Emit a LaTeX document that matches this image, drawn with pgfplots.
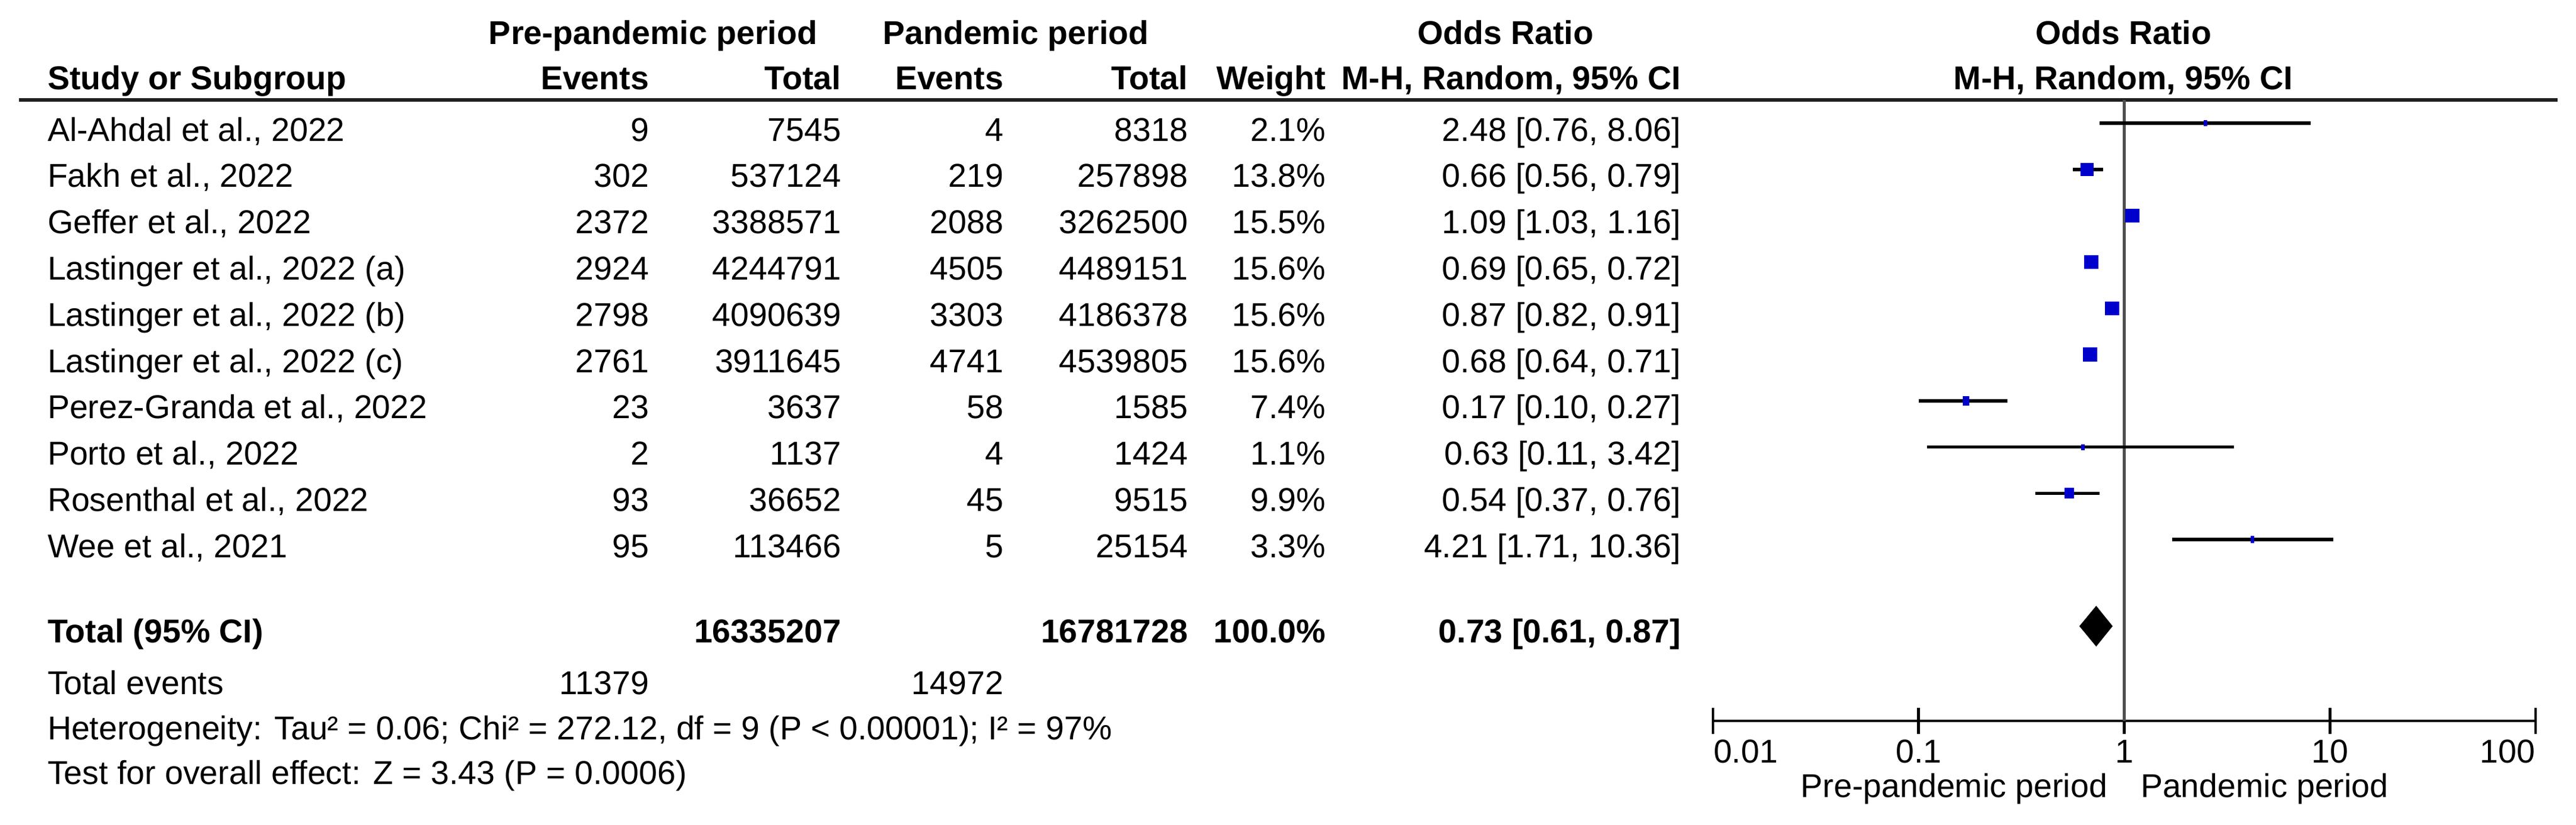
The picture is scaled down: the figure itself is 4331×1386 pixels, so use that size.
\documentclass[border=0pt]{standalone}
\usepackage{fontspec}
\setmainfont{Liberation Sans}
\usepackage{pgfplots}
\pgfplotsset{compat=1.18}

\definecolor{orblue}{RGB}{0,0,204}
\definecolor{refgray}{RGB}{77,77,77}
\newcommand\fs{\fontsize{11.1}{13}\selectfont}

% marker: filled rectangle, half sizes set per point
\pgfdeclareplotmark{wrect}{%
  \pgfpathrectangle{\pgfpoint{-\hw pt}{-\hh pt}}{\pgfpoint{2*\hw pt}{2*\hh pt}}%
  \pgfusepath{fill}}

% r  or  lo  hi  weight
\pgfplotstableread{
r   or   lo   hi    w
1   2.48 0.76 8.06  2.1
2   0.66 0.56 0.79  13.8
3   1.09 1.03 1.16  15.5
4   0.69 0.65 0.72  15.6
5   0.87 0.82 0.91  15.6
6   0.68 0.64 0.71  15.6
7   0.17 0.10 0.27  7.4
8   0.63 0.11 3.42  1.1
9   0.54 0.37 0.76  9.9
10  4.21 1.71 10.36 3.3
}\studies

% one row of the table, #1 = baseline in px
\newcommand\srow[8]{%
  \node[anchor=base west] at (79,#1) {#2};
  \node[anchor=base east] at (1092,#1) {#3};
  \node[anchor=base east] at (1415,#1) {#4};
  \node[anchor=base east] at (1688,#1) {#5};
  \node[anchor=base east] at (1998,#1) {#6};
  \node[anchor=base east] at (2230,#1) {#7};
  \node[anchor=base east] at (2827,#1) {#8};
}

\begin{document}
\begin{tikzpicture}[every node/.style={font=\fs, inner sep=0pt, text=black}]
\begin{scope}[x=0.2pt, y=-0.2pt]
  \path[use as bounding box] (0,0) rectangle (4331,1386);

  % headers
  \begin{scope}[every node/.style={font=\fs\bfseries, inner sep=0pt}]
    \node[anchor=base] at (1098,74) {Pre-pandemic period};
    \node[anchor=base] at (1708,74) {Pandemic period};
    \node[anchor=base] at (2531,74) {Odds Ratio};
    \node[anchor=base] at (3570,74) {Odds Ratio};
    \srow{150}{Study or Subgroup}{Events}{Total}{Events}{Total}{Weight}{M-H, Random, 95\% CI}
    \node[anchor=base] at (3570,150) {M-H, Random, 95\% CI};
  \end{scope}
  \draw[line width=1.3pt, black!87] (32,168) -- (4300,168);

  \srow{237}{Al-Ahdal et al., 2022}{9}{7545}{4}{8318}{2.1\%}{2.48 [0.76, 8.06]}
  \srow{314.8}{Fakh et al., 2022}{302}{537124}{219}{257898}{13.8\%}{0.66 [0.56, 0.79]}
  \srow{392.6}{Geffer et al., 2022}{2372}{3388571}{2088}{3262500}{15.5\%}{1.09 [1.03, 1.16]}
  \srow{470.4}{Lastinger et al., 2022 (a)}{2924}{4244791}{4505}{4489151}{15.6\%}{0.69 [0.65, 0.72]}
  \srow{548.2}{Lastinger et al., 2022 (b)}{2798}{4090639}{3303}{4186378}{15.6\%}{0.87 [0.82, 0.91]}
  \srow{626}{Lastinger et al., 2022 (c)}{2761}{3911645}{4741}{4539805}{15.6\%}{0.68 [0.64, 0.71]}
  \srow{703.8}{Perez-Granda et al., 2022}{23}{3637}{58}{1585}{7.4\%}{0.17 [0.10, 0.27]}
  \srow{781.6}{Porto et al., 2022}{2}{1137}{4}{1424}{1.1\%}{0.63 [0.11, 3.42]}
  \srow{859.4}{Rosenthal et al., 2022}{93}{36652}{45}{9515}{9.9\%}{0.54 [0.37, 0.76]}
  \srow{937.2}{Wee et al., 2021}{95}{113466}{5}{25154}{3.3\%}{4.21 [1.71, 10.36]}

  \begin{scope}[every node/.style={font=\fs\bfseries, inner sep=0pt}]
    \srow{1080}{Total (95\% CI)}{}{16335207}{}{16781728}{100.0\%}{0.73 [0.61, 0.87]}
  \end{scope}
  \srow{1167}{Total events}{11379}{}{14972}{}{}{}
  \node[anchor=base west] at (79,1243) {Heterogeneity: Tau² = 0.06; Chi² = 272.12, df = 9 (P < 0.00001); I² = 97\%};
  \node[anchor=base west] at (79,1318) {Test for overall effect: Z = 3.43 (P = 0.0006)};

  % tick labels and direction labels of the forest axis
  \node[anchor=base west] at (2880,1282) {0.01};
  \node[anchor=base] at (3226,1282) {0.1};
  \node[anchor=base] at (3572,1282) {1};
  \node[anchor=base] at (3917,1282) {10};
  \node[anchor=base east] at (4263,1282) {100};
  \node[anchor=base east] at (3544,1340) {Pre-pandemic period};
  \node[anchor=base west] at (3598,1340) {Pandemic period};
\end{scope}

\begin{axis}[
    at={(576pt,-242.4pt)}, anchor=south west,
    scale only axis, width=276.6pt, height=208.8pt,
    xmode=log, xmin=0.01, xmax=100,
    ymin=0.499, ymax=13.918, y dir=reverse,
    axis x line*=bottom, axis y line=none,
    xtick={0.01,0.1,1,10,100}, xticklabels={}, xminorticks=false,
    tick align=center, major tick length=8.8pt,
    x axis line style={line width=0.95pt, black},
    tick style={line width=0.95pt, black},
    clip=false,
]
  % line of no effect
  \addplot[refgray, line width=1.1pt] coordinates {(1,0.499) (1,13.918)};

  % confidence intervals
  \addplot[black, line width=1.1pt, unbounded coords=jump] table {
x     y
0.76  1
8.06  1
nan   nan
0.56  2
0.79  2
nan   nan
1.03  3
1.16  3
nan   nan
0.65  4
0.72  4
nan   nan
0.82  5
0.91  5
nan   nan
0.64  6
0.71  6
nan   nan
0.10  7
0.27  7
nan   nan
0.11  8
3.42  8
nan   nan
0.37  9
0.76  9
nan   nan
1.71  10
10.36 10
};

  % study estimates, sized by weight
  \addplot[orblue, scatter, only marks, mark=wrect,
    visualization depends on={\thisrow{w} \as \wt},
    scatter/@pre marker code/.code={%
      \pgfmathsetmacro\hw{max(0.6,0.155*\wt)}%
      \pgfmathsetmacro\hh{0.9+0.09*\wt}},
    scatter/@post marker code/.code={}]
    table[x=or, y=r] {\studies};

  % pooled estimate
  \addplot[black, fill=black] coordinates {(0.61,11.87) (0.73,11.45) (0.87,11.87) (0.73,12.29)} -- cycle;
\end{axis}
\end{tikzpicture}
\end{document}
